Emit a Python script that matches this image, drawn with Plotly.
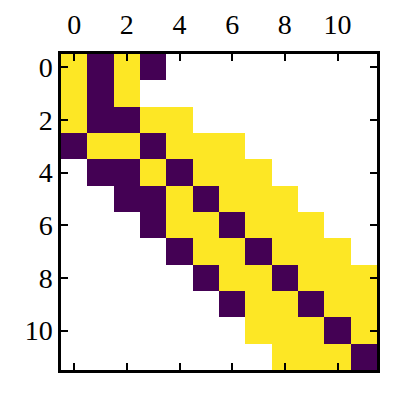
import plotly.graph_objects as go

# 1 = yellow, 0 = purple, None = empty (white)
N = None
rows = list(range(12))
cols = list(range(12))
values = [
    [1, 0, 1, 0, N, N, N, N, N, N, N, N],
    [1, 0, 1, N, N, N, N, N, N, N, N, N],
    [1, 0, 0, 1, 1, N, N, N, N, N, N, N],
    [0, 1, 1, 0, 1, 1, 1, N, N, N, N, N],
    [N, 0, 0, 1, 0, 1, 1, 1, N, N, N, N],
    [N, N, 0, 0, 1, 0, 1, 1, 1, N, N, N],
    [N, N, N, 0, 1, 1, 0, 1, 1, 1, N, N],
    [N, N, N, N, 0, 1, 1, 0, 1, 1, 1, N],
    [N, N, N, N, N, 0, 1, 1, 0, 1, 1, 1],
    [N, N, N, N, N, N, 0, 1, 1, 0, 1, 1],
    [N, N, N, N, N, N, N, 1, 1, 1, 0, 1],
    [N, N, N, N, N, N, N, N, 1, 1, 1, 0],
]
tick_vals = [0, 2, 4, 6, 8, 10]

fig = go.Figure(
    go.Heatmap(
        z=values,
        x=cols,
        y=rows,
        zmin=0,
        zmax=1,
        colorscale=[[0, "#440154"], [1, "#fde725"]],
        showscale=False,
        hoverongaps=False,
    )
)

axis_style = dict(
    showgrid=False,
    zeroline=False,
    showline=True,
    linecolor="black",
    linewidth=2.5,
    mirror="ticks",
    ticks="inside",
    ticklen=7,
    tickwidth=2,
    tickcolor="black",
    tickvals=tick_vals,
    automargin=False,
    tickfont=dict(family="Liberation Serif", size=28, color="black"),
)

fig.update_xaxes(side="top", range=[-0.5, 11.5], ticklabelstandoff=6, **axis_style)
fig.update_yaxes(range=[11.5, -0.5], **axis_style)

fig.update_layout(
    width=407,
    height=407,
    plot_bgcolor="white",
    paper_bgcolor="white",
    margin=dict(l=53, r=38, t=46, b=45),
)

fig.write_html("out.html")
